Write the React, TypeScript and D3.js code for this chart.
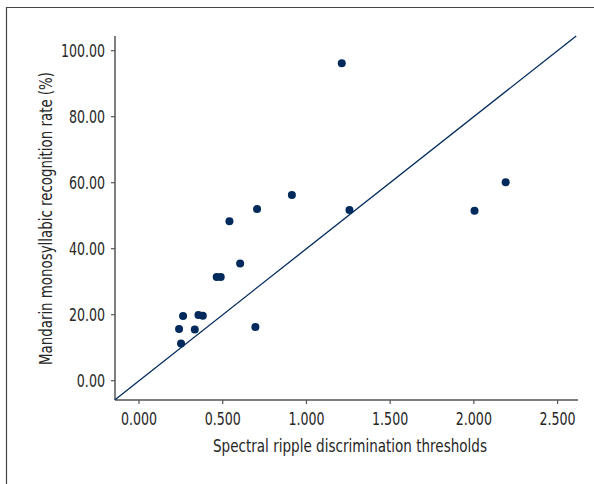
import React from 'react';
import * as d3 from 'd3';

// spectral ripple threshold vs. recognition rate, one entry per subject
const thresholds = [0.239, 0.263, 0.251, 0.333, 0.355, 0.381, 0.464, 0.488, 0.604, 0.695, 0.540, 0.705, 0.913, 1.211, 1.257, 2.004, 2.190];
const recognition = [15.7, 19.6, 11.3, 15.5, 19.9, 19.7, 31.4, 31.4, 35.5, 16.3, 48.3, 52.0, 56.3, 96.2, 51.7, 51.5, 60.1];
const xTicks = [0, 0.5, 1, 1.5, 2, 2.5];
const yTicks = [0, 20, 40, 60, 80, 100];
const refSlope = 40;

const font = '"DejaVu Sans Condensed", "Liberation Sans Narrow", sans-serif';
const navy = '#002a5c';
const axisColor = '#555';
const textColor = '#262626';

// squeeze the condensed font a little closer to the original's narrow face
const labelWidth = (s: string) => s.replace('.', '').length * 7.9 + 4.5;

export default function App() {
  const width = 594;
  const height = 484;
  const left = 115;
  const right = 578;
  const top = 36;
  const bottom = 400;

  const x = d3.scaleLinear().domain([-0.1435, 2.622]).range([left, right]);
  const y = d3.scaleLinear().domain([-5.85, 104.45]).range([bottom, top]);

  const [x0, x1] = x.domain();
  const lineEnd = Math.min(x1, y.domain()[1] / refSlope);
  const refLine = d3.line<number>()
    .x(d => x(d))
    .y(d => y(d * refSlope))([x0, lineEnd]);

  return (
    <svg width={width} height={height} style={{ position: 'absolute', left: 0, top: 0 }}>
      <rect width={width} height={height} fill="#fff" />
      {/* frame */}
      <line x1={6.5} y1={7} x2={6.5} y2={height} stroke="#444" strokeWidth={1.2} />
      <line x1={6} y1={7.5} x2={width} y2={7.5} stroke="#444" strokeWidth={1.2} />

      {/* axes */}
      <line x1={left} y1={top} x2={left} y2={bottom} stroke={axisColor} strokeWidth={1.5} />
      <line x1={left} y1={bottom} x2={right} y2={bottom} stroke={axisColor} strokeWidth={1.5} />

      {yTicks.map(t => {
        const s = t.toFixed(2);
        return (
          <g key={'y' + t}>
            <line x1={left - 4} x2={left} y1={y(t)} y2={y(t)} stroke={axisColor} strokeWidth={1.2} />
            <text x={left - 10} y={y(t)} dy="0.36em" textAnchor="end" fontFamily={font} fontSize={17} fill={textColor}
              textLength={labelWidth(s)} lengthAdjust="spacingAndGlyphs">
              {s}
            </text>
          </g>
        );
      })}
      {xTicks.map(t => {
        const s = t.toFixed(3);
        return (
          <g key={'x' + t}>
            <line x1={x(t)} x2={x(t)} y1={bottom} y2={bottom + 4} stroke={axisColor} strokeWidth={1.2} />
            <text x={x(t)} y={bottom + 25} textAnchor="middle" fontFamily={font} fontSize={17} fill={textColor}
              textLength={labelWidth(s)} lengthAdjust="spacingAndGlyphs">
              {s}
            </text>
          </g>
        );
      })}

      <text x={350} y={452} textAnchor="middle" fontFamily={font} fontSize={17.5} fill={textColor}
        textLength={274} lengthAdjust="spacingAndGlyphs">
        Spectral ripple discrimination thresholds
      </text>
      <text transform={`translate(52,218.5) rotate(-90)`} textAnchor="middle" fontFamily={font} fontSize={17.5} fill={textColor}
        textLength={293} lengthAdjust="spacingAndGlyphs">
        Mandarin monosyllabic recognition rate (%)
      </text>

      <path d={refLine ?? ''} fill="none" stroke={navy} strokeWidth={1.3} />

      {thresholds.map((v, i) => (
        <circle key={i} cx={x(v)} cy={y(recognition[i])} r={4} fill={navy} />
      ))}
    </svg>
  );
}
